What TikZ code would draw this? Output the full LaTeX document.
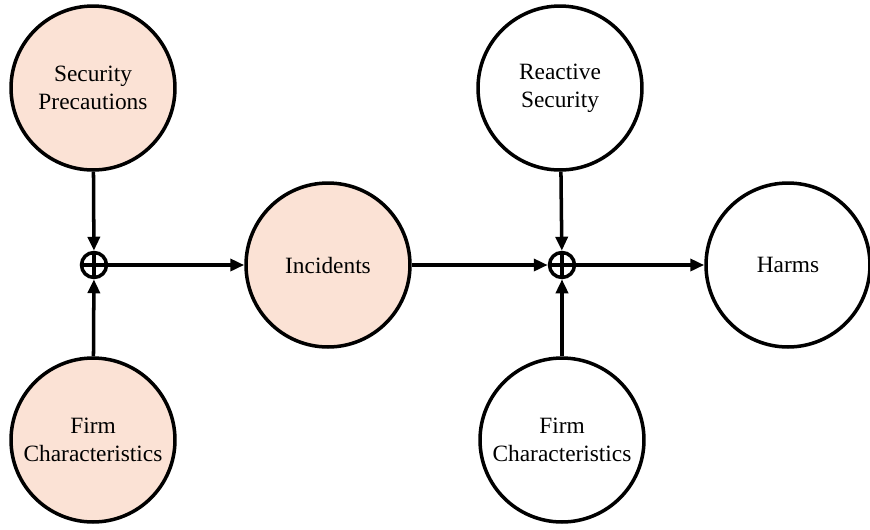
\documentclass[tikz,border=0pt]{standalone}
\usepackage{fontspec}
\setmainfont{Liberation Serif}
\usetikzlibrary{arrows.meta}

\definecolor{peach}{RGB}{251,226,213}

\begin{document}
\begin{tikzpicture}[x = 0.02cm, y = -0.02cm,
	var/.style = {circle, draw, line width = 2pt, minimum size = 3.28cm,
		inner sep = 0pt, align = center,
		font = \fontsize{13.3}{16}\selectfont},
	observed/.style = {var, fill = peach},
	sum/.style = {circle, draw, line width = 2pt, minimum size = 0.5cm,
		inner sep = 0pt},
	link/.style = {line width = 2pt,
		-{Triangle[length = 0.28cm, width = 0.24cm]}}]
\useasboundingbox (0, 0) rectangle (870, 529);

% first stage: precautions and firm give incidents
\node [observed] (precautions) at (93, 88) {Security\\Precautions};
\node [observed] (firmA) at (93, 440) {Firm\\Characteristics};
\node [sum] (sumA) at (94, 265) {};
\draw [line width = 2pt] (sumA.north) -- (sumA.south)
	(sumA.west) -- (sumA.east);
\node [observed] (incidents) at (328, 265) {Incidents};

% second stage: incidents, reaction and firm give harms
\node [var] (reactive) at (560, 88) {Reactive\\Security};
\node [var] (firmB) at (562, 440) {Firm\\Characteristics};
\node [sum] (sumB) at (562, 265) {};
\draw [line width = 2pt] (sumB.north) -- (sumB.south)
	(sumB.west) -- (sumB.east);
\node [var] (harms) at (788, 265) {Harms};

\draw [link] (precautions) -- (sumA);
\draw [link] (firmA) -- (sumA);
\draw [link] (sumA) -- (incidents);
\draw [link] (incidents) -- (sumB);
\draw [link] (reactive) -- (sumB);
\draw [link] (firmB) -- (sumB);
\draw [link] (sumB) -- (harms);
\end{tikzpicture}
\end{document}
